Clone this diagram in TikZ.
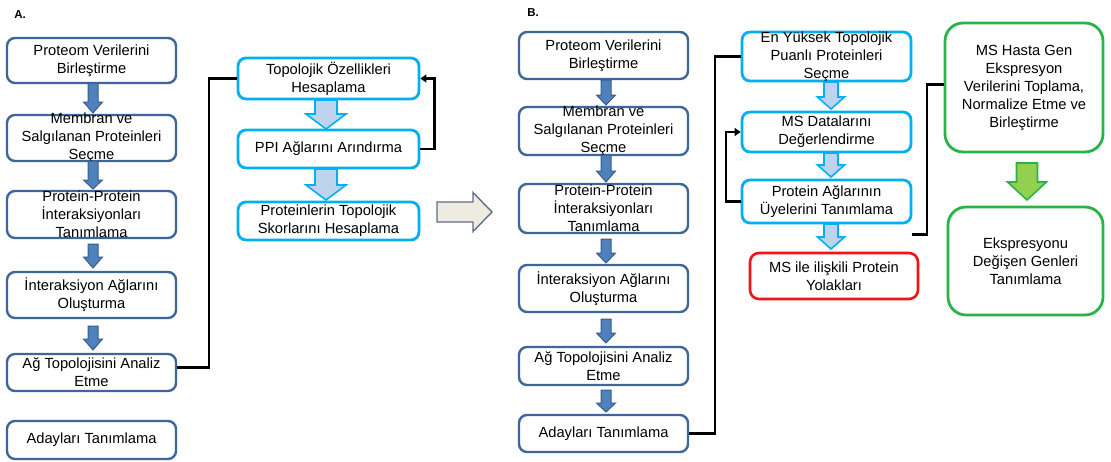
\documentclass[tikz,border=0pt]{standalone}
\usepackage{fontspec}
\setmainfont{Liberation Sans}
\usetikzlibrary{calc,arrows.meta}
\definecolor{dkb}{RGB}{62,102,152}
\definecolor{arrb}{RGB}{79,129,189}
\definecolor{arrbd}{RGB}{56,93,138}
\definecolor{cyn}{RGB}{0,176,240}
\definecolor{lbl}{RGB}{190,212,238}
\definecolor{beige}{RGB}{238,236,225}
\definecolor{beiged}{RGB}{95,110,135}
\definecolor{grn}{RGB}{40,180,70}
\definecolor{lgrn}{RGB}{146,208,80}
\definecolor{rd}{RGB}{240,20,20}
\newcommand\dnarrow[7]{%
  \draw[#1] (#2-#6,#3) -- (#2+#6,#3) -- (#2+#6,#4) -- (#2+#7,#4) -- (#2,#5)
    -- (#2-#7,#4) -- (#2-#6,#4) -- cycle;}
\tikzset{
  bx/.style={draw=dkb, line width=2.4pt, rounded corners=8pt, fill=white, inner sep=0pt},
  cbx/.style={draw=cyn, line width=2.8pt, rounded corners=8pt, fill=white, inner sep=0pt},
  rbx/.style={draw=rd, line width=2.6pt, rounded corners=9pt, fill=white, inner sep=0pt},
  gbx/.style={draw=grn, line width=2.8pt, rounded corners=18pt, fill=white, inner sep=0pt},
  txt/.style={align=center, inner sep=0pt, font=\fontsize{14.7}{18}\selectfont},
  darr/.style={fill=arrb, draw=arrbd, line width=1pt},
  larr/.style={fill=lbl, draw=cyn, line width=1.6pt},
  garr/.style={fill=lgrn, draw=grn, line width=1.6pt},
  barr/.style={fill=beige, draw=beiged, line width=1.4pt},
  conn/.style={draw=black, line width=2.2pt},
  fb/.style={conn, -{Triangle[length=6pt,width=8pt]}},
}
\begin{document}
\begin{tikzpicture}[x=1pt,y=-1pt]
\useasboundingbox (0,0) rectangle (1111,461);
\fill[white] (0,0) rectangle (1111,461);
% labels
\node[font=\bfseries\fontsize{11.5}{13}\selectfont, inner sep=0pt] (la) at (20,15) {A.};
\node[font=\bfseries\fontsize{11.5}{13}\selectfont, inner sep=0pt] (lb) at (533,13) {B.};
% ---------- Panel A left column ----------
\node[bx, minimum width=169pt, minimum height=45pt] (a1) at (91.5,60.5) {};
\node[bx, minimum width=169pt, minimum height=46pt] (a2) at (91.5,138) {};
\node[bx, minimum width=169pt, minimum height=47pt] (a3) at (91.5,214.5) {};
\node[bx, minimum width=169pt, minimum height=46pt] (a4) at (91.5,295) {};
\node[bx, minimum width=169pt, minimum height=37pt] (a5) at (91.5,372.5) {};
\node[bx, minimum width=169pt, minimum height=38pt] (a6) at (91.5,440) {};
\node[txt] (a1t) at (a1) {Proteom Verilerini\\Birleştirme};
\node[txt] (a2t) at (a2) {Membran ve\\Salgılanan Proteinleri\\Seçme};
\node[txt] (a3t) at (a3) {Protein-Protein\\İnteraksiyonları\\Tanımlama};
\node[txt] (a4t) at (a4) {İnteraksiyon Ağlarını\\Oluşturma};
\node[txt] (a5t) at (a5) {Ağ Topolojisini Analiz\\Etme};
\node[txt] (a6t) at (a6) {Adayları Tanımlama};
\dnarrow{darr}{93}{83}{102}{113}{5}{9.5}
\dnarrow{darr}{93}{161}{180}{189}{5}{9.5}
\dnarrow{darr}{93}{244}{257}{268}{5}{9.5}
\dnarrow{darr}{93}{326}{339}{350}{5}{9.5}
% ---------- Panel A right column ----------
\node[cbx, minimum width=181pt, minimum height=41pt] (t1) at (328.5,78.5) {};
\node[cbx, minimum width=181pt, minimum height=38pt] (t2) at (328.5,149) {};
\node[cbx, minimum width=181pt, minimum height=38pt] (t3) at (328.5,221) {};
\node[txt] (t1t) at (t1) {Topolojik Özellikleri\\Hesaplama};
\node[txt] (t2t) at (t2) {PPI Ağlarını Arındırma};
\node[txt] (t3t) at (t3) {Proteinlerin Topolojik\\Skorlarını Hesaplama};
\dnarrow{larr}{326}{100}{114}{129}{11}{20}
\dnarrow{larr}{326}{169}{185}{200}{11}{20}
\draw[conn] ([yshift=5pt]a5.east) -| ($(t1.west)+(-28,0)$) -- (t1.west);
\draw[fb] (t2.east) -- ++(14,0) |- (t1.east);
% big arrow A -> B
\draw[barr] (437,202) -- (473,202) -- (473,192.5) -- (492,212) -- (473,231.5) -- (473,222) -- (437,222) -- cycle;
% ---------- Panel B left column ----------
\node[bx, minimum width=169pt, minimum height=47pt] (b1) at (603.5,55.5) {};
\node[bx, minimum width=169pt, minimum height=48pt] (b2) at (603.5,131) {};
\node[bx, minimum width=169pt, minimum height=49pt] (b3) at (603.5,208.5) {};
\node[bx, minimum width=169pt, minimum height=47pt] (b4) at (603.5,288.5) {};
\node[bx, minimum width=169pt, minimum height=38pt] (b5) at (603.5,366) {};
\node[bx, minimum width=169pt, minimum height=37pt] (b6) at (603.5,433.5) {};
\node[txt] (b1t) at (b1) {Proteom Verilerini\\Birleştirme};
\node[txt] (b2t) at (b2) {Membran ve\\Salgılanan Proteinleri\\Seçme};
\node[txt] (b3t) at (b3) {Protein-Protein\\İnteraksiyonları\\Tanımlama};
\node[txt] (b4t) at (b4) {İnteraksiyon Ağlarını\\Oluşturma};
\node[txt] (b5t) at (b5) {Ağ Topolojisini Analiz\\Etme};
\node[txt] (b6t) at (b6) {Adayları Tanımlama};
\dnarrow{darr}{606}{80}{95}{105}{5}{9.5}
\dnarrow{darr}{606}{155}{171}{182}{5}{9.5}
\dnarrow{darr}{606}{239}{253}{263}{5}{9.5}
\dnarrow{darr}{606}{319}{333}{343}{5}{9.5}
\dnarrow{darr}{606}{390}{403}{412}{5}{9.5}
% ---------- Panel B middle column ----------
\node[cbx, minimum width=169pt, minimum height=49pt] (c1) at (826.5,56.5) {};
\node[cbx, minimum width=169pt, minimum height=40pt] (c2) at (826.5,132) {};
\node[cbx, minimum width=169pt, minimum height=43pt] (c3) at (826.5,201.5) {};
\node[rbx, minimum width=168pt, minimum height=46pt] (r1) at (834,276) {};
\node[txt] (c1t) at (c1) {En Yüksek Topolojik\\Puanlı Proteinleri\\Seçme};
\node[txt] (c2t) at (c2) {MS Datalarını\\Değerlendirme};
\node[txt] (c3t) at (c3) {Protein Ağlarının\\Üyelerini Tanımlama};
\node[txt] (r1t) at (r1) {MS ile ilişkili Protein\\Yolakları};
\dnarrow{larr}{831}{82}{97}{109}{7}{13.5}
\dnarrow{larr}{831}{153}{165}{177}{7}{13.5}
\dnarrow{larr}{831}{224}{237}{249}{7}{13.5}
\draw[conn] (b6.east) -| ($(c1.west)+(-26,0)$) -- (c1.west);
\draw[fb] (c3.west) -- ++(-15,0) |- (c2.west);
% ---------- Panel B right column ----------
\node[gbx, minimum width=158pt, minimum height=129pt] (g1) at (1024,87.5) {};
\node[gbx, minimum width=155pt, minimum height=108pt] (g2) at (1025.5,261) {};
\node[txt] (g1t) at (g1) {MS Hasta Gen\\Ekspresyon\\Verilerini Toplama,\\Normalize Etme ve\\Birleştirme};
\node[txt] (g2t) at (g2) {Ekspresyonu\\Değişen Genleri\\Tanımlama};
\dnarrow{garr}{1027}{163}{182}{200}{10.5}{19.5}
\draw[conn] ([yshift=-10pt]c3.south east) -| ($(g1.west)+(-17,-3)$) -- ($(g1.west)+(0,-3)$);
\end{tikzpicture}
\end{document}
